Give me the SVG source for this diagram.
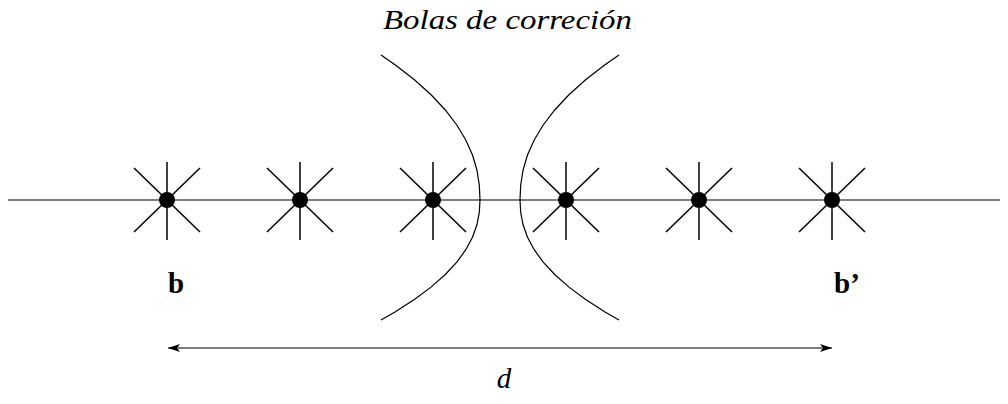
<svg xmlns="http://www.w3.org/2000/svg" width="1008" height="404" viewBox="0 0 1008 404">
<style>
.ln{stroke:#000;stroke-width:1.2;fill:none}
.st{stroke:#000;stroke-width:1.5;fill:none}
.lbl{font-family:"Liberation Serif",serif;fill:#000}
</style>
<defs>
<marker id="ah" viewBox="0 0 12 8" refX="12" refY="4" markerWidth="12" markerHeight="8" markerUnits="userSpaceOnUse" orient="auto-start-reverse">
<path d="M0,0 L12,4 L0,8 L3,4 Z" fill="#000"/>
</marker>
<g id="star">
<line class="st" x1="0" y1="-38" x2="0" y2="40"/>
<line class="st" x1="-33" y1="-32" x2="33" y2="32"/>
<line class="st" x1="-33" y1="32" x2="33" y2="-32"/>
<circle r="8" fill="#000"/>
</g>
</defs>
<g id="connectors">
<line class="ln" x1="8" y1="200" x2="1000" y2="200"/>
<line class="ln" x1="168" y1="348" x2="832" y2="348" marker-start="url(#ah)" marker-end="url(#ah)"/>
</g>
<g id="node-b1"><use href="#star" x="167" y="200"/></g>
<g id="node-b2"><use href="#star" x="300" y="200"/></g>
<g id="node-b3"><use href="#star" x="433" y="200"/></g>
<g id="node-b4"><use href="#star" x="566" y="200"/></g>
<g id="node-b5"><use href="#star" x="699" y="200"/></g>
<g id="node-b6"><use href="#star" x="832" y="200"/></g>
<g id="curve-left">
<path class="ln" d="M381,55 L395.4,65 L414.7,80 L431.3,95 L445.3,110 L456.8,125 L465.8,140 L472.5,155 L476.9,170 L479.3,185 L480,200 L479.3,212.4 L476.9,224.8 L472.5,237.2 L465.8,249.7 L456.8,262.1 L445.3,274.5 L431.3,286.9 L414.7,299.3 L395.4,311.7 L381,320"/>
</g>
<g id="curve-right">
<path class="ln" d="M619,55 L604.6,65 L585.3,80 L568.7,95 L554.7,110 L543.2,125 L534.2,140 L527.5,155 L523.1,170 L520.7,185 L520,200 L520.7,212.4 L523.1,224.8 L527.5,237.2 L534.2,249.7 L543.2,262.1 L554.7,274.5 L568.7,286.9 L585.3,299.3 L604.6,311.7 L619,320"/>
</g>
<g id="labels">
<text class="lbl" x="507.5" y="29" font-size="28" font-style="italic" text-anchor="middle" textLength="249" lengthAdjust="spacingAndGlyphs">Bolas de correción</text>
<text class="lbl" x="168" y="293" font-size="29" font-weight="bold">b</text>
<text class="lbl" x="834" y="293" font-size="29" font-weight="bold">b’</text>
<text class="lbl" x="504" y="388" font-size="29" font-style="italic" text-anchor="middle">d</text>
</g>
</svg>
